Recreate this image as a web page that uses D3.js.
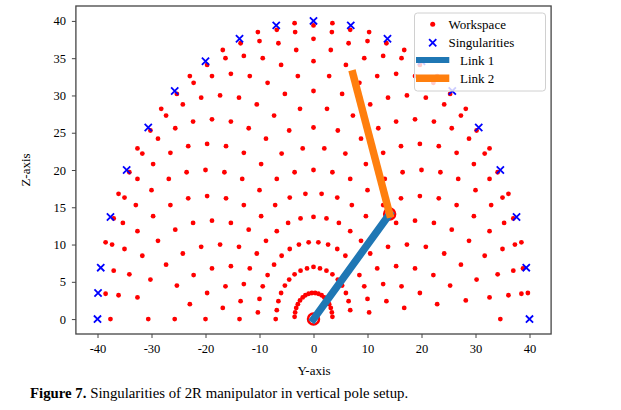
<!DOCTYPE html>
<html>
<head>
<meta charset="utf-8">
<script src="https://cdn.jsdelivr.net/npm/d3@7"></script>
<style>
  body { margin: 0; background: #fff; }
  svg { font-family: "Liberation Serif", "DejaVu Serif", serif; }
</style>
</head>
<body>
<svg width="621" height="410"></svg>
<script>
// tick values
var yTicks = [-40, -30, -20, -10, 0, 10, 20, 30, 40]
var zTicks = [0, 5, 10, 15, 20, 25, 30, 35, 40]

// workspace points [Y, Z], read ring by ring (inner to outer)
var workspace = [
  // r ~ 3.5
  [3.5,0.3],[3.4,0.9],[3.2,1.5],[2.9,2.0],[2.5,2.5],[2.0,2.9],[1.5,3.2],[0.9,3.4],[0.3,3.5],
  [-0.3,3.5],[-0.9,3.4],[-1.5,3.2],[-2.0,2.9],[-2.5,2.5],[-2.9,2.0],[-3.2,1.5],[-3.4,0.9],[-3.5,0.3],
  // r ~ 7
  [6.8,1.2],[6.5,2.4],[6.0,3.5],[5.3,4.5],[4.5,5.3],[3.5,6.0],[2.4,6.5],[1.2,6.8],[0,7.0],
  [-1.2,6.8],[-2.4,6.5],[-3.5,6.0],[-4.5,5.3],[-5.3,4.5],[-6.0,3.5],[-6.5,2.4],[-6.8,1.2],[-7.0,0],
  // r ~ 10.4
  [10.3,0.9],[10.0,2.7],[9.4,4.4],[8.5,5.9],[7.3,7.3],[5.9,8.5],[4.4,9.4],[2.7,10.0],[0.9,10.3],
  [-0.9,10.3],[-2.7,10.0],[-4.4,9.4],[-5.9,8.5],[-7.3,7.3],[-8.5,5.9],[-9.4,4.4],[-10.0,2.7],[-10.3,0.9],
  // r ~ 13.7
  [13.5,2.4],[12.9,4.7],[11.8,6.8],[10.5,8.8],[8.8,10.5],[6.8,11.8],[4.7,12.9],[2.4,13.5],[0,13.7],
  [-2.4,13.5],[-4.7,12.9],[-6.8,11.8],[-8.8,10.5],[-10.5,8.8],[-11.8,6.8],[-12.9,4.7],[-13.5,2.4],[-13.7,0],
  // r ~ 16.9
  [16.8,1.5],[16.3,4.4],[15.3,7.1],[13.8,9.7],[12.0,12.0],[9.7,13.8],[7.1,15.3],[4.4,16.3],[1.5,16.8],
  [-1.5,16.8],[-4.4,16.3],[-7.1,15.3],[-9.7,13.8],[-12.0,12.0],[-13.8,9.7],[-15.3,7.1],[-16.3,4.4],[-16.8,1.5],
  // r ~ 20
  [19.7,3.5],[18.8,6.8],[17.3,10.0],[15.3,12.9],[12.9,15.3],[10.0,17.3],[6.8,18.8],[3.5,19.7],[0,20.0],
  [-3.5,19.7],[-6.8,18.8],[-10.0,17.3],[-12.9,15.3],[-15.3,12.9],[-17.3,10.0],[-18.8,6.8],[-19.7,3.5],[-20.0,0],
  // r ~ 22.9
  [22.9,2.0],[22.2,5.9],[20.8,9.7],[18.8,13.2],[16.2,16.2],[13.2,18.8],[9.7,20.8],[5.9,22.2],[2.0,22.9],
  [-2.0,22.9],[-5.9,22.2],[-9.7,20.8],[-13.2,18.8],[-16.2,16.2],[-18.8,13.2],[-20.8,9.7],[-22.2,5.9],[-22.9,2.0],
  // r ~ 25.7
  [25.3,4.5],[24.2,8.8],[22.3,12.9],[19.7,16.5],[16.5,19.7],[12.9,22.3],[8.8,24.2],[4.5,25.3],[0,25.7],
  [-4.5,25.3],[-8.8,24.2],[-12.9,22.3],[-16.5,19.7],[-19.7,16.5],[-22.3,12.9],[-24.2,8.8],[-25.3,4.5],[-25.7,0],
  // r ~ 28.3
  [28.2,2.5],[27.3,7.3],[25.6,12.0],[23.2,16.2],[20.0,20.0],[16.2,23.2],[12.0,25.6],[7.3,27.3],[2.5,28.2],
  [-2.5,28.2],[-7.3,27.3],[-12.0,25.6],[-16.2,23.2],[-20.0,20.0],[-23.2,16.2],[-25.6,12.0],[-27.3,7.3],
  // r ~ 30.6
  [30.2,5.3],[28.8,10.5],[26.5,15.3],[23.5,19.7],[19.7,23.5],[15.3,26.5],[10.5,28.8],[5.3,30.2],[0,30.6],
  [-5.3,30.2],[-10.5,28.8],[-15.3,26.5],[-19.7,23.5],[-23.5,19.7],[-26.5,15.3],[-28.8,10.5],[-30.2,5.3],[-30.6,0],
  // r ~ 32.8
  [32.6,2.9],[31.7,8.5],[29.7,13.8],[26.8,18.8],[23.2,23.2],[18.8,26.8],[13.8,29.7],[8.5,31.7],[2.9,32.6],
  [-2.9,32.6],[-8.5,31.7],[-13.8,29.7],[-18.8,26.8],[-23.2,23.2],[-26.8,18.8],[-29.7,13.8],[-31.7,8.5],[-32.6,2.9],
  // r ~ 34.6
  [34.6,0],[34.1,6.0],[32.6,11.8],[30.0,17.3],[26.5,22.3],[22.3,26.5],[17.3,30.0],[11.8,32.6],[6.0,34.1],
  [0,34.6],[-6.0,34.1],[-11.8,32.6],[-17.3,30.0],[-22.3,26.5],[-26.5,22.3],[-30.0,17.3],[-32.6,11.8],[-34.1,6.0],
  // r ~ 36.3
  [36.1,3.2],[35.0,9.4],[32.9,15.3],[29.7,20.8],[25.6,25.6],[20.8,29.7],[15.3,32.9],[9.4,35.0],[3.2,36.1],
  [-3.2,36.1],[-9.4,35.0],[-15.3,32.9],[-20.8,29.7],[-25.6,25.6],[-29.7,20.8],[-32.9,15.3],[-35.0,9.4],[-36.1,3.2],
  // r ~ 37.6
  [37.0,6.5],[35.3,12.9],[32.6,18.8],[28.8,24.2],[24.2,28.8],[18.8,32.6],[12.9,35.3],[6.5,37.0],[0,37.6],
  [-6.5,37.0],[-12.9,35.3],[-18.8,32.6],[-24.2,28.8],[-28.8,24.2],[-32.6,18.8],[-35.3,12.9],[-37.0,6.5],[-37.6,0],
  // r ~ 38.6
  [38.5,3.4],[37.3,10.0],[35.0,16.3],[31.7,22.2],[27.3,27.3],[22.2,31.7],[16.3,35.0],[10.0,37.3],[3.4,38.5],
  [-3.4,38.5],[-10.0,37.3],[-16.3,35.0],[-22.2,31.7],[-27.3,27.3],[-31.7,22.2],[-35.0,16.3],[-37.3,10.0],[-38.5,3.4],
  // r ~ 39.4
  [38.8,6.8],[37.0,13.5],[34.1,19.7],[30.2,25.3],[25.3,30.2],[19.7,34.1],[13.5,37.0],[6.8,38.8],[0,39.4],
  [-6.8,38.8],[-13.5,37.0],[-19.7,34.1],[-25.3,30.2],[-30.2,25.3],[-34.1,19.7],[-37.0,13.5],
  // r ~ 39.9
  [39.7,3.5],[38.5,10.3],[36.1,16.8],[32.6,22.9],[28.2,28.2],[22.9,32.6],[16.8,36.1],[10.3,38.5],[3.5,39.7],
  [-3.5,39.7],[-10.3,38.5],[-16.8,36.1],[-22.9,32.6],[-28.2,28.2],[-32.6,22.9],[-36.1,16.8],[-38.5,10.3]
]

// singular configurations [Y, Z]
var singular = [
  [40,0],[39.4,6.9],[37.6,13.7],[34.6,20.0],[30.6,25.7],[25.7,30.6],[20.0,34.6],[13.7,37.6],[6.9,39.4],[0,40],
  [-6.9,39.4],[-13.7,37.6],[-20.0,34.6],[-25.7,30.6],[-30.6,25.7],[-34.6,20.0],[-37.6,13.7],[-39.4,6.9],[-39.9,3.5],[-40,0]
]

// joints of the arm: base, elbow, tip
var joints = [[0, 0], [14.1, 14.1], [7.3, 32.9]]

var legendLabels = ["Workspace", "Singularities", "Link 1", "Link 2"]
var linkColors = ["#1f77b4", "#ff7f0e"]

var serif = "Liberation Serif, DejaVu Serif, serif"

var svg = d3.select("svg")

var x = d3.scaleLinear().domain([-44, 44]).range([75.9, 551.1])
var y = d3.scaleLinear().domain([-2, 42]).range([334, 6])

// axes
var gx = svg.append("g")
    .attr("transform", "translate(0,334)")
    .call(d3.axisBottom(x).tickValues(yTicks).tickSize(4).tickPadding(6).tickFormat(function (d) { return d }))
gx.select(".domain").remove()

var gy = svg.append("g")
    .attr("transform", "translate(75.9,0)")
    .call(d3.axisLeft(y).tickValues(zTicks).tickSize(4).tickPadding(6).tickFormat(function (d) { return d }))
gy.select(".domain").remove()

svg.selectAll(".tick line").attr("stroke", "#444")
svg.selectAll(".tick text").attr("fill", "#000")
gx.attr("font-family", serif).attr("font-size", 12.5)
gy.attr("font-family", serif).attr("font-size", 12.5)

// workspace dots
svg.append("g")
    .selectAll("circle")
    .data(workspace)
    .join("circle")
    .attr("cx", function (d) { return x(d[0]) })
    .attr("cy", function (d) { return y(d[1]) })
    .attr("r", 2.4)
    .attr("fill", "#ff0000")

// singularities
var xMark = "M-3.6,-3.6L3.6,3.6M-3.6,3.6L3.6,-3.6"
svg.append("g")
    .selectAll("path")
    .data(singular)
    .join("path")
    .attr("transform", function (d) { return "translate(" + x(d[0]) + "," + y(d[1]) + ")" })
    .attr("d", xMark)
    .attr("stroke", "#0000ff")
    .attr("stroke-width", 1.8)
    .attr("fill", "none")

// joint markers
svg.append("g")
    .selectAll("circle")
    .data(joints.slice(0, 2))
    .join("circle")
    .attr("cx", function (d) { return x(d[0]) })
    .attr("cy", function (d) { return y(d[1]) })
    .attr("r", 5.5)
    .attr("fill", "none")
    .attr("stroke", "#ff0000")
    .attr("stroke-width", 2.5)

// links
var links = [[joints[0], joints[1]], [joints[1], joints[2]]]
svg.append("g")
    .selectAll("line")
    .data(links)
    .join("line")
    .attr("x1", function (d) { return x(d[0][0]) })
    .attr("y1", function (d) { return y(d[0][1]) })
    .attr("x2", function (d) { return x(d[1][0]) })
    .attr("y2", function (d) { return y(d[1][1]) })
    .attr("stroke", function (d, i) { return linkColors[i] })
    .attr("stroke-width", 7.5)
    .attr("stroke-linecap", "square")

// frame
svg.append("rect")
    .attr("x", 75.9).attr("y", 6)
    .attr("width", 475.2).attr("height", 328)
    .attr("fill", "none")
    .attr("stroke", "#444")
    .attr("stroke-width", 1.3)

// legend
var lg = svg.append("g")
lg.append("rect")
    .attr("x", 414.5).attr("y", 13)
    .attr("width", 131).attr("height", 78)
    .attr("rx", 3)
    .attr("fill", "#fff").attr("fill-opacity", 0.8)
    .attr("stroke", "#d0d0d0")
var rowY = [24.3, 42.7, 60, 78.3]
lg.append("circle").attr("cx", 432.7).attr("cy", rowY[0]).attr("r", 2.5).attr("fill", "#ff0000")
lg.append("path").attr("transform", "translate(432.7," + rowY[1] + ")").attr("d", xMark)
    .attr("stroke", "#0000ff").attr("stroke-width", 1.8)
lg.append("line").attr("x1", 416).attr("x2", 449.3).attr("y1", rowY[2]).attr("y2", rowY[2])
    .attr("stroke", linkColors[0]).attr("stroke-width", 6)
lg.append("line").attr("x1", 416).attr("x2", 449.3).attr("y1", rowY[3]).attr("y2", rowY[3])
    .attr("stroke", linkColors[1]).attr("stroke-width", 7.5)
lg.selectAll("text")
    .data(legendLabels)
    .join("text")
    .attr("x", function (d, i) { return i < 2 ? 448.5 : 460 })
    .attr("y", function (d, i) { return rowY[i] + 4.5 })
    .attr("font-size", 13)
    .text(function (d) { return d })

// axis labels
svg.append("text")
    .attr("x", 314).attr("y", 375)
    .attr("text-anchor", "middle")
    .attr("font-size", 13)
    .text("Y-axis")
svg.append("text")
    .attr("transform", "translate(30,170) rotate(-90)")
    .attr("text-anchor", "middle")
    .attr("font-size", 13)
    .text("Z-axis")

// caption
var cap = svg.append("text")
    .attr("x", 30).attr("y", 398)
    .attr("font-size", 14.8)
cap.append("tspan").attr("font-weight", "bold").text("Figure 7.")
cap.append("tspan").text(" Singularities of 2R manipulator in vertical pole setup.")
</script>
</body>
</html>
